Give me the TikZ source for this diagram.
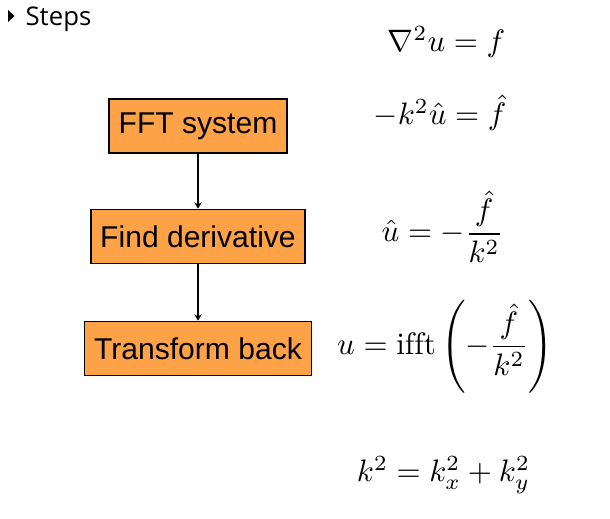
\documentclass[tikz,border=0pt]{standalone}
\usepackage{amsmath}
\usepackage{fontspec}
\usetikzlibrary{arrows.meta}
\usetikzlibrary{positioning}
\setsansfont{Liberation Sans}
\newfontfamily\stepsfont{Open Sans}
\definecolor{box-orange}{RGB}{253, 162, 70}

\begin{document}
\begin{tikzpicture}[x=0.3226pt, y=-0.3226pt,
    stepbox/.style={draw=black, line width=0.6pt, fill=box-orange, inner xsep=3.1pt, minimum height=17.4pt, font=\sffamily\fontsize{9.7}{11}\selectfont},
    flow/.style={-{Stealth[length=2pt, width=2.4pt]}, line width=0.45pt},
    eqn/.style={inner sep=0pt}]
\useasboundingbox (0,0) rectangle (610,519);
\fill (8,10) -- (14.5,16) -- (8,22) -- cycle;
\node[anchor=base west, inner sep=0pt, font=\stepsfont\fontsize{8.3}{10}\selectfont] (steps) at (25,26) {Steps};
\node[stepbox] (fft) at (198,126) {FFT system};
\node[stepbox] (deriv) at (198,236.5) {Find derivative};
\node[stepbox] (back) at (198,348.5) {Transform back};
\draw[flow] (fft) -- (deriv);
\draw[flow] (deriv) -- (back);
\node[eqn, anchor=base] (poisson) at (446.5,52) {$\nabla^2 u = f$};
\node[eqn, anchor=base] (fourier) at (440,125) {$-k^2 \hat{u} = \hat{f}$};
\node[eqn] (solve) at (442.5,227) {$\displaystyle \hat{u} = -\frac{\hat{f}}{k^2}$};
\node[eqn] (invert) at (445,346.5) {$\displaystyle u = \operatorname{ifft}\left(-\frac{\hat{f}}{k^2}\right)$};
\node[eqn, anchor=base] (wavenum) at (443.5,482) {$k^2 = k_x^2 + k_y^2$};
\end{tikzpicture}
\end{document}
